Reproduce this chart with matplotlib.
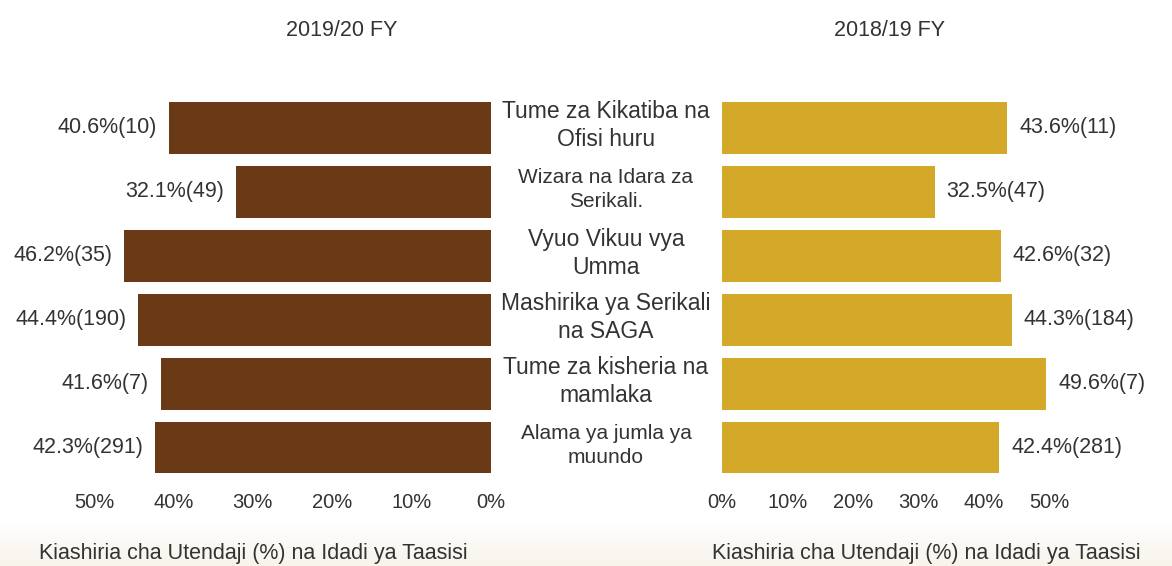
import numpy as np
import matplotlib
matplotlib.use("Agg")
import matplotlib.pyplot as plt

plt.rcParams["font.family"] = ["Liberation Sans", "DejaVu Sans"]

categories = [
    "Tume za Kikatiba na\nOfisi huru",
    "Wizara na Idara za\nSerikali.",
    "Vyuo Vikuu vya\nUmma",
    "Mashirika ya Serikali\nna SAGA",
    "Tume za kisheria na\nmamlaka",
    "Alama ya jumla ya\nmuundo",
]
cat_sizes = [16.5, 15, 16.5, 16.5, 16.5, 15]

pct_2019 = [40.6, 32.1, 46.2, 44.4, 41.6, 42.3]
n_2019 = [10, 49, 35, 190, 7, 291]
pct_2018 = [43.6, 32.5, 42.6, 44.3, 49.6, 42.4]
n_2018 = [11, 47, 32, 184, 7, 281]

ticks = [0, 10, 20, 30, 40, 50]
tick_labels = ["0%", "10%", "20%", "30%", "40%", "50%"]

brown = "#6a3915"
gold = "#d4a92a"
txt = "#333333"
W, H = 1172, 566

fig = plt.figure(figsize=(W / 100, H / 100), dpi=100)

# soft beige band at the bottom
bg = fig.add_axes([0, 0, 1, 1], zorder=-1)
grad = np.linspace(0, 1, 200).reshape(-1, 1)
grad = np.clip(grad / 0.08, 0, 1)
cmap = matplotlib.colors.LinearSegmentedColormap.from_list("bg", ["#f8f4ec", "#ffffff"])
bg.imshow(grad, aspect="auto", cmap=cmap, extent=[0, 1, 0, 1], origin="lower")
bg.set_xlim(0, 1)
bg.set_ylim(0, 1)
bg.axis("off")

ax_b = 86.5 / H
ax_h = 383.5 / H
axL = fig.add_axes([94 / W, ax_b, 397 / W, ax_h])
axR = fig.add_axes([722 / W, ax_b, 327 / W, ax_h])

y = np.arange(len(categories))

axL.barh(y, pct_2019, height=0.81, color=brown)
axL.set_xlim(50, 0)
for yi, p, n in zip(y, pct_2019, n_2019):
    axL.text(p + 1.5, yi, f"{p}%({n})", ha="right", va="center",
             fontsize=15.5, color=txt, clip_on=False)

axR.barh(y, pct_2018, height=0.81, color=gold)
axR.set_xlim(0, 50)
for yi, p, n in zip(y, pct_2018, n_2018):
    axR.text(p + 1.85, yi, f"{p}%({n})", ha="left", va="center",
             fontsize=15.5, color=txt, clip_on=False)

for ax in (axL, axR):
    ax.set_ylim(len(categories) - 0.5, -0.5)
    ax.set_yticks([])
    ax.set_xticks(ticks)
    ax.set_xticklabels(tick_labels, fontsize=14.5, color=txt)
    ax.tick_params(axis="x", length=0, pad=10)
    for s in ax.spines.values():
        s.set_visible(False)
    ax.patch.set_alpha(0)

# category labels in the middle
for yi, c, fs in zip(y, categories, cat_sizes):
    xf, yf = axL.transData.transform((0, yi))
    fig.text(606 / W, yf / H + 0.004, c, ha="center", va="center",
             fontsize=fs, color=txt, linespacing=1.3)

fig.text(342 / W, 1 - 30 / H, "2019/20 FY", ha="center", va="center", fontsize=15.5, color=txt)
fig.text(890 / W, 1 - 30 / H, "2018/19 FY", ha="center", va="center", fontsize=15.5, color=txt)
fig.text(253 / W, 1 - 553 / H, "Kiashiria cha Utendaji (%) na Idadi ya Taasisi",
         ha="center", va="center", fontsize=15.5, color=txt)
fig.text(926 / W, 1 - 553 / H, "Kiashiria cha Utendaji (%) na Idadi ya Taasisi",
         ha="center", va="center", fontsize=15.5, color=txt)

fig.savefig("out.png", dpi=100)
